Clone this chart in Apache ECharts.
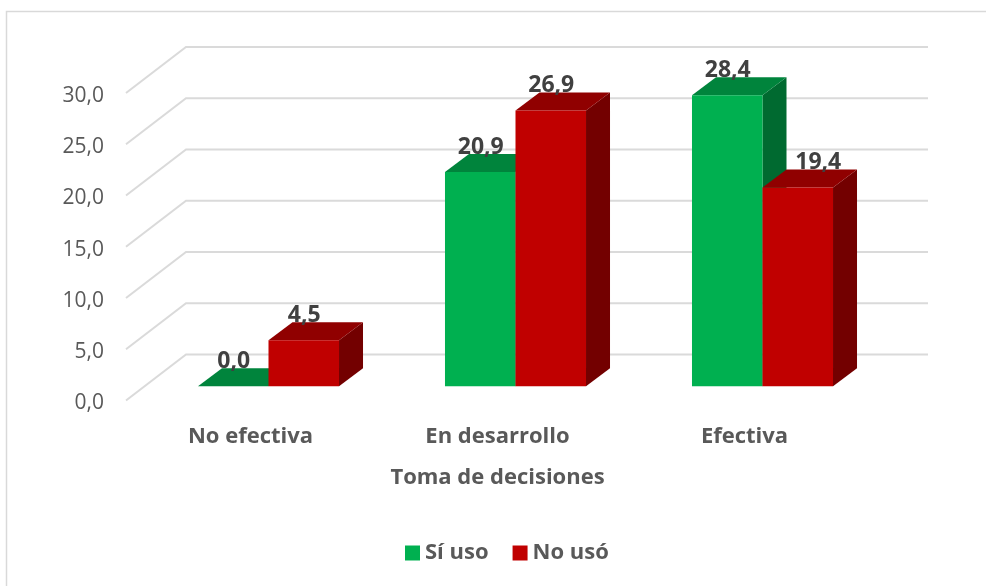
<!DOCTYPE html>
<html><head><meta charset="utf-8">
<script src="https://cdn.jsdelivr.net/npm/echarts@6/dist/echarts.min.js"></script>
<style>html,body{margin:0;padding:0;background:#fff}#c{width:986px;height:586px}</style>
</head><body><div id="c"></div>
<script>
const categories = ['No efectiva', 'En desarrollo', 'Efectiva'];
const siUso = [0.0, 20.9, 28.4];
const noUso = [4.5, 26.9, 19.4];
const ticks = [0, 5, 10, 15, 20, 25, 30];
const axisName = 'Toma de decisiones';
const FONT = '"Open Sans"';
const fmt = v => v.toFixed(1).replace('.', ',');

function wall(params, api) {
  const cs = params.coordSys;
  const p = api.coord([0, api.value(0)]);
  const y = p[1];
  return { type: 'polyline', silent: true,
    shape: { points: [[cs.x - 1, y], [cs.x + 59, y - 46], [cs.x + 801, y - 46]] },
    style: { fill: null, stroke: '#dadada', lineWidth: 2 } };
}
function bar3d(side, front, top, dark, labelShift) {
  return function (params, api) {
    const idx = api.value(0), v = api.value(1);
    const c = api.coord([idx, v]), b = api.coord([idx, 0]);
    const w = api.size([1, 0])[0] * 0.2855;
    const cx = c[0] + 18;
    const x0 = side < 0 ? cx - w : cx, x1 = x0 + w;
    const yb = b[1] - 14.2, yt = c[1] - 14.2;
    const dx = 24, dy = 18;
    const kids = [];
    if (v > 0) kids.push({ type: 'polygon', silent: true,
      shape: { points: [[x1, yt], [x1 + dx, yt - dy], [x1 + dx, yb - dy], [x1, yb]] },
      style: { fill: dark } });
    kids.push({ type: 'polygon', silent: true,
      shape: { points: [[x0, yt], [x0 + dx, yt - dy], [x1 + dx, yt - dy], [x1, yt]] },
      style: { fill: top } });
    if (v > 0) kids.push({ type: 'rect', silent: true,
      shape: { x: x0, y: yt, width: w, height: yb - yt }, style: { fill: front } });
    kids.push({ type: 'text', silent: true, z2: 100,
      style: { x: (x0 + x1) / 2 + 0.5 + (labelShift[idx] || 0), y: yt - 25, text: fmt(v), fill: '#404040',
        font: 'bold 23px ' + FONT, align: 'center', verticalAlign: 'middle' } });
    return { type: 'group', children: kids };
  };
}
const chart = echarts.init(document.getElementById('c'), null, { renderer: 'canvas' });
chart.setOption({
  animation: false,
  backgroundColor: '#fff',
  graphic: [{ type: 'rect', silent: true, z: -10,
    shape: { x: 6.5, y: 11.5, width: 1000, height: 600 },
    style: { fill: null, stroke: '#d9d9d9', lineWidth: 1.5 } }],
  grid: { left: 127, top: 93, width: 741, height: 307.5 },
  xAxis: { type: 'category', data: categories,
    axisLine: { show: false }, axisTick: { show: false }, splitLine: { show: false },
    axisLabel: { color: '#595959', fontFamily: FONT, fontWeight: 'bold', fontSize: 22, margin: 25 },
    name: axisName, nameLocation: 'middle', nameGap: 66,
    nameTextStyle: { color: '#595959', fontFamily: FONT, fontWeight: 'bold', fontSize: 22 } },
  yAxis: { type: 'value', min: 0, max: 30, interval: 5,
    axisLine: { show: false }, axisTick: { show: false }, splitLine: { show: false },
    axisLabel: { color: '#595959', fontFamily: FONT, fontSize: 21, margin: 23, verticalAlign: 'top', lineHeight: 6, formatter: v => fmt(v) } },
  legend: { data: ['Sí uso', 'No usó'], left: 400, top: 537, itemWidth: 15, itemHeight: 15,
    itemGap: 24, icon: 'rect',
    textStyle: { color: '#595959', fontFamily: FONT, fontWeight: 'bold', fontSize: 22 } },
  series: [
    { type: 'custom', name: 'wall', data: ticks.map(t => [t]), encode: { y: 0 },
      renderItem: wall, silent: true, z: 1, clip: false },
    { type: 'custom', name: 'Sí uso', itemStyle: { color: '#00b050' }, z: 2, clip: false,
      data: siUso.map((v, i) => [i, v]), encode: { x: 0, y: 1 },
      renderItem: bar3d(-1, '#00b050', '#00843c', '#006a30', [0, 0, 0]) },
    { type: 'custom', name: 'No usó', itemStyle: { color: '#c00000' }, z: 2, clip: false,
      data: noUso.map((v, i) => [i, v]), encode: { x: 0, y: 1 },
      renderItem: bar3d(1, '#c00000', '#900000', '#730000', [0, 0, 20]) }
  ]
});
</script></body></html>
